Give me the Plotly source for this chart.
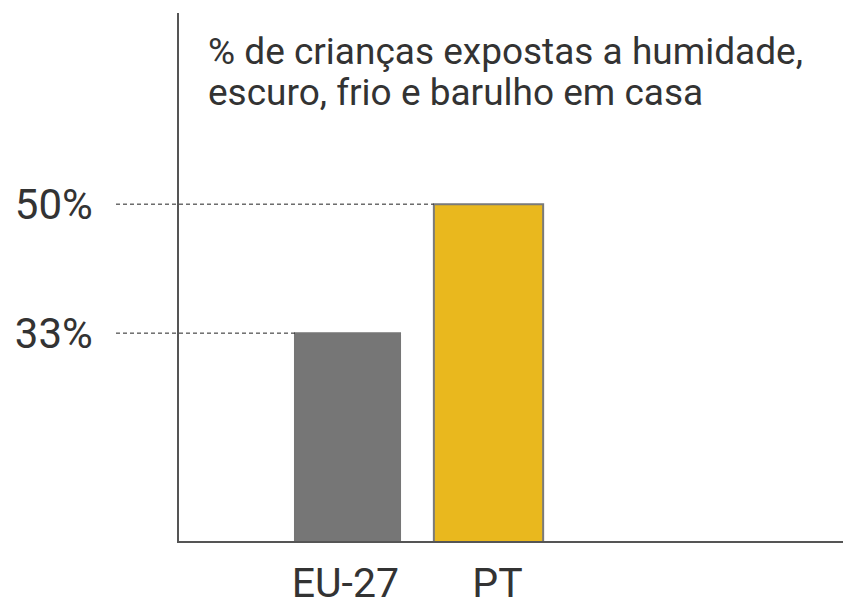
import plotly.graph_objects as go

categories = ["EU-27", "PT"]
values = [33, 50]
value_labels = ["33%", "50%"]
bar_colors = ["#767676", "#E9B81E"]
bar_line_colors = ["#767676", "#7a7a7a"]
bar_widths = [0.745, 0.775]
title_lines = ["% de crianças expostas a humidade,", "escuro, frio e barulho em casa"]

W, H = 843, 598
L, R, T, B = 179, 0, 13, 57
xr = [-1.195, 3.514]
yr = [5.6, 75.2]
xpos = list(range(len(categories)))

fig = go.Figure()
fig.add_trace(go.Bar(
    x=xpos, y=values, width=bar_widths,
    marker=dict(color=bar_colors, line=dict(color=bar_line_colors, width=2)),
    hoverinfo="skip",
))

def to_paper(xv):
    return (xv - xr[0]) / (xr[1] - xr[0])

dash_start = (116 - L) / (W - L - R)
for i, v in enumerate(values):
    x_edge = xpos[i] - bar_widths[i] / 2
    fig.add_shape(type="line", xref="paper", yref="y",
                  x0=dash_start, x1=to_paper(x_edge), y0=v, y1=v,
                  line=dict(color="#222222", width=1, dash="4px,3px"), layer="above")

title_centers_px = [51, 93]
for line, cy in zip(title_lines, title_centers_px):
    fig.add_annotation(text=line, xref="paper", yref="paper",
                       x=(208 - L) / (W - L - R), y=1 - (cy - T) / (H - T - B),
                       xanchor="left", yanchor="middle", align="left", showarrow=False,
                       xshift=-2,
                       font=dict(family="Roboto", size=37, color="#333333"))

fig.update_layout(
    width=W, height=H,
    margin=dict(l=L, r=R, t=T, b=B, pad=0, autoexpand=False),
    paper_bgcolor="white", plot_bgcolor="white",
    showlegend=False,
    font=dict(family="Roboto", color="#333333"),
    xaxis=dict(range=xr, tickmode="array", automargin=False,
               tickvals=[xpos[0] - 0.015, xpos[1] + 0.064], ticktext=categories,
               showgrid=False, zeroline=False, showline=True, linecolor="#555555", linewidth=1.5,
               ticks="", ticklabelstandoff=5,
               tickfont=dict(family="Roboto", size=41, color="#333333")),
    yaxis=dict(range=yr, tickmode="array", tickvals=values, ticktext=value_labels,
               automargin=False,
               showgrid=False, zeroline=False, showline=True, linecolor="#555555", linewidth=1.5,
               ticks="", ticklabelstandoff=76,
               tickfont=dict(family="Roboto", size=42, color="#333333")),
)

fig.write_html("out.html", config={"displayModeBar": False},
               post_script="document.body.style.margin='0';document.body.style.overflow='hidden';")
